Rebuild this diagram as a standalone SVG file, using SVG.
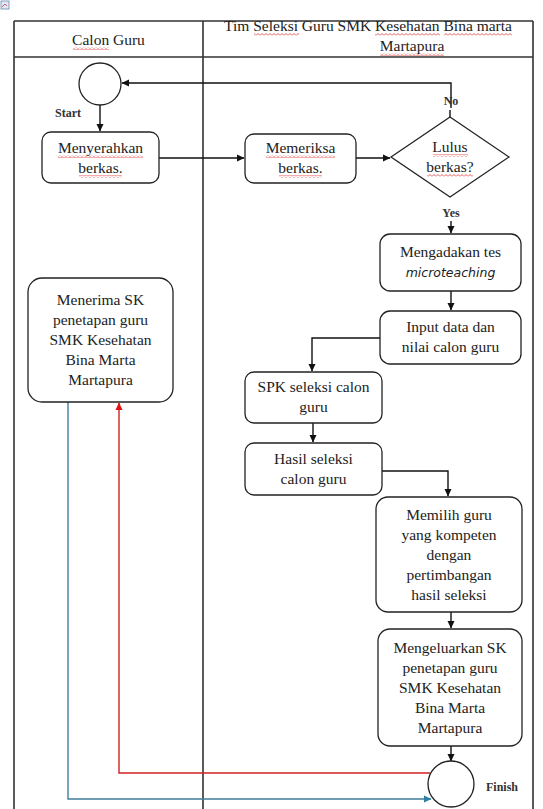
<svg xmlns="http://www.w3.org/2000/svg" width="543" height="809" viewBox="0 0 543 809">
<style>
.lane{stroke:#333;stroke-width:1.6;fill:none}
.box{fill:#fff;stroke:#222;stroke-width:1.3}
.circ{fill:#fff;stroke:#222;stroke-width:1.3}
.t{font-family:Liberation Serif, DejaVu Serif, Noto Serif, serif;font-size:15.5px;fill:#222;text-anchor:middle}
.it{font-family:DejaVu Sans, sans-serif;font-style:italic;font-size:12.5px;fill:#222;text-anchor:middle}
.s{font-family:Liberation Serif, DejaVu Serif, serif;font-size:12px;font-weight:bold;fill:#333;text-anchor:middle}
.ln{fill:none;stroke:#111;stroke-width:1.4}
.red{fill:none;stroke:#d42020;stroke-width:1.4}
.blue{fill:none;stroke:#3f7f9c;stroke-width:1.4}
.wv{fill:url(#wave)}
</style>
<defs>
<pattern id="wave" width="4" height="3" patternUnits="userSpaceOnUse">
<path d="M0 2.5 L2 0.5 L4 2.5" fill="none" stroke="#e03030" stroke-width="0.8"/>
</pattern>
<marker id="ah" markerWidth="8" markerHeight="8" refX="7" refY="4" orient="auto" markerUnits="userSpaceOnUse">
<path d="M0 0.5 L7.5 4 L0 7.5 Z" fill="#111"/>
</marker>
<marker id="ahr" markerWidth="8" markerHeight="8" refX="7" refY="4" orient="auto" markerUnits="userSpaceOnUse">
<path d="M0 0.5 L7.5 4 L0 7.5 Z" fill="#e01010"/>
</marker>
<marker id="ahb" markerWidth="8" markerHeight="8" refX="7" refY="4" orient="auto" markerUnits="userSpaceOnUse">
<path d="M0 0.5 L7.5 4 L0 7.5 Z" fill="#2f7fa0"/>
</marker>
</defs>
<rect width="543" height="809" fill="#fff"/>
<g id="icon"><rect x="1" y="1" width="8" height="8" fill="#dfe8f4" stroke="#6a8ab0" stroke-width="0.8"/><path d="M2 7 L5 4 L7 6" stroke="#c04040" stroke-width="0.8" fill="none"/></g>

<g id="lanes">
<path class="lane" d="M14 21 H533 M14 57 H533 M14 21 V809 M203 21 V809 M533 21 V809"/>
<text class="t" x="108.5" y="45" font-family="Liberation Serif, serif">Calon Guru</text>
<rect class="wv" x="73" y="47" width="36" height="3"/>
<text class="t" x="368" y="31">Tim Seleksi Guru SMK Kesehatan Bina marta</text>
<rect class="wv" x="254" y="33" width="45" height="3"/>
<rect class="wv" x="375" y="33" width="65" height="3"/>
<rect class="wv" x="444" y="33" width="68" height="3"/>
<text class="t" x="412" y="51">Martapura</text>
<rect class="wv" x="380" y="53" width="64" height="3"/>
</g>

<g id="connectors">
<path class="ln" d="M451 108 V83 H122" marker-end="url(#ah)"/>
<path class="ln" d="M450 110 V117"/>
<path class="ln" d="M100 105 V131" marker-end="url(#ah)"/>
<path class="ln" d="M159 158 H244" marker-end="url(#ah)"/>
<path class="ln" d="M356 158 H390" marker-end="url(#ah)"/>
<path class="ln" d="M451 221 V233" marker-end="url(#ah)"/>
<path class="ln" d="M451 291 V310" marker-end="url(#ah)"/>
<path class="ln" d="M380 338 H312 V371" marker-end="url(#ah)"/>
<path class="ln" d="M313 423 V442" marker-end="url(#ah)"/>
<path class="ln" d="M382 471 H448 V496" marker-end="url(#ah)"/>
<path class="ln" d="M451 612 V628" marker-end="url(#ah)"/>
<path class="ln" d="M451 746 V761" marker-end="url(#ah)"/>
<path class="red" d="M430 773 H119 V403" marker-end="url(#ahr)"/>
<path class="blue" d="M68 402 V799 H431" marker-end="url(#ahb)"/>
<text class="s" x="451" y="105">No</text>
<text class="s" x="451" y="217">Yes</text>
</g>

<g id="start">
<circle class="circ" cx="100" cy="84" r="21"/>
<text class="s" x="68" y="117">Start</text>
</g>

<g id="menyerahkan">
<rect class="box" x="42" y="132" width="117" height="51" rx="9"/>
<text class="t" x="100.5" y="153">Menyerahkan</text>
<text class="t" x="100.5" y="173">berkas.</text>
<rect class="wv" x="58" y="155" width="85" height="3"/>
<rect class="wv" x="79" y="175" width="43" height="3"/>
</g>

<g id="memeriksa">
<rect class="box" x="245" y="134" width="111" height="49" rx="9"/>
<text class="t" x="300.5" y="153">Memeriksa</text>
<text class="t" x="300.5" y="173">berkas.</text>
<rect class="wv" x="266" y="155" width="69" height="3"/>
<rect class="wv" x="279" y="175" width="43" height="3"/>
</g>

<g id="lulus">
<path class="box" d="M391 157 L450 117 L509 157 L450 197 Z"/>
<text class="t" x="450" y="152">Lulus</text>
<text class="t" x="450" y="172">berkas?</text>
<rect class="wv" x="433" y="154" width="35" height="3"/>
<rect class="wv" x="427" y="174" width="46" height="3"/>
</g>

<g id="mengadakan">
<rect class="box" x="380" y="234" width="141" height="57" rx="10"/>
<text class="t" x="450.5" y="257">Mengadakan tes</text>
<text class="it" x="450.5" y="277">microteaching</text>
</g>

<g id="input">
<rect class="box" x="380" y="311" width="141" height="53" rx="10"/>
<text class="t" x="450.5" y="332">Input data dan</text>
<text class="t" x="450.5" y="352">nilai calon guru</text>
</g>

<g id="spk">
<rect class="box" x="245" y="372" width="137" height="51" rx="9"/>
<text class="t" x="313.5" y="392">SPK seleksi calon</text>
<text class="t" x="313.5" y="412">guru</text>
</g>

<g id="hasil">
<rect class="box" x="245" y="443" width="137" height="52" rx="9"/>
<text class="t" x="313.5" y="464">Hasil seleksi</text>
<text class="t" x="313.5" y="484">calon guru</text>
</g>

<g id="memilih">
<rect class="box" x="376" y="497" width="146" height="115" rx="12"/>
<text class="t" x="449" y="519.5">Memilih guru</text>
<text class="t" x="449" y="539.5">yang kompeten</text>
<text class="t" x="449" y="559.5">dengan</text>
<text class="t" x="449" y="579.5">pertimbangan</text>
<text class="t" x="449" y="599.5">hasil seleksi</text>
</g>

<g id="mengeluarkan">
<rect class="box" x="378" y="629" width="144" height="117" rx="12"/>
<text class="t" x="450" y="652.5">Mengeluarkan SK</text>
<text class="t" x="450" y="672.5">penetapan guru</text>
<text class="t" x="450" y="692.5">SMK Kesehatan</text>
<text class="t" x="450" y="712.5">Bina Marta</text>
<text class="t" x="450" y="732.5">Martapura</text>
</g>

<g id="finish">
<circle class="circ" cx="451" cy="784" r="23"/>
<text class="s" x="502" y="791">Finish</text>
</g>

<g id="menerima">
<rect class="box" x="28" y="278" width="145" height="124" rx="14"/>
<text class="t" x="100.5" y="305">Menerima SK</text>
<text class="t" x="100.5" y="325">penetapan guru</text>
<text class="t" x="100.5" y="345">SMK Kesehatan</text>
<text class="t" x="100.5" y="365">Bina Marta</text>
<text class="t" x="100.5" y="385">Martapura</text>
</g>
</svg>
